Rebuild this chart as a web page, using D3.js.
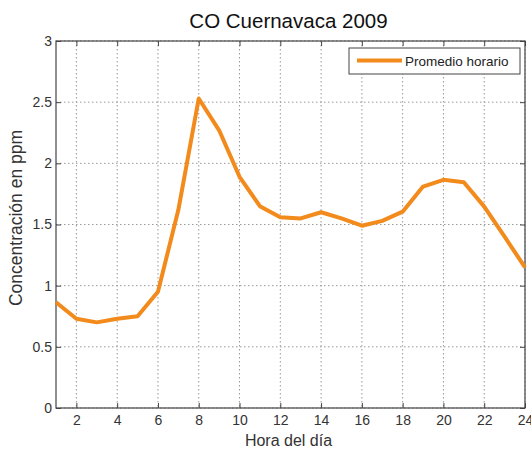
<!DOCTYPE html>
<html><head><meta charset="utf-8">
<script src="https://cdn.jsdelivr.net/npm/d3@7"></script>
<style>
body{margin:0;background:#fff;}
svg{display:block;font-family:"Liberation Sans",Arial,sans-serif;}
</style></head>
<body><svg id="c" width="531" height="450"></svg>
<script>
const hours = [1,2,3,4,5,6,7,8,9,10,11,12,13,14,15,16,17,18,19,20,21,22,23,24];
const values = [0.865,0.73,0.70,0.73,0.75,0.95,1.62,2.53,2.27,1.89,1.65,1.56,1.55,1.60,1.55,1.49,1.53,1.605,1.81,1.865,1.845,1.646,1.40,1.15];
const xTicks = [2,4,6,8,10,12,14,16,18,20,22,24];
const yTicks = [0,0.5,1,1.5,2,2.5,3];
const title = "CO Cuernavaca 2009";
const xLabel = "Hora del día";
const yLabel = "Concentración en ppm";
const seriesName = "Promedio horario";

const svg = d3.select("#c");
const L=56, R=525, T=41, B=408;
const x = d3.scaleLinear().domain([1,24]).range([L,R]);
const y = d3.scaleLinear().domain([0,3]).range([B,T]);
const axisCol="#444", textCol="#333", lineCol="#f28a1c";

// grid
const g = svg.append("g");
g.selectAll(".gx").data(xTicks).join("line")
  .attr("x1",d=>x(d)).attr("x2",d=>x(d)).attr("y1",T).attr("y2",B)
  .attr("stroke","#999").attr("stroke-width",1).attr("stroke-dasharray","1.5,2.5");
g.selectAll(".gy").data(yTicks).join("line")
  .attr("y1",d=>y(d)).attr("y2",d=>y(d)).attr("x1",L).attr("x2",R)
  .attr("stroke","#999").attr("stroke-width",1).attr("stroke-dasharray","1.5,2.5");

// axes with inner ticks
const xa = svg.append("g").attr("transform",`translate(0,${B})`)
  .call(d3.axisBottom(x).tickValues(xTicks).tickSize(-5).tickPadding(7).tickFormat(d3.format("d")));
const xt = svg.append("g").attr("transform",`translate(0,${T})`)
  .call(d3.axisTop(x).tickValues(xTicks).tickSize(-5).tickFormat(""));
const ya = svg.append("g").attr("transform",`translate(${L},0)`)
  .call(d3.axisLeft(y).tickValues(yTicks).tickSize(-5).tickPadding(4).tickFormat(d=>String(d)));
const yr = svg.append("g").attr("transform",`translate(${R},0)`)
  .call(d3.axisRight(y).tickValues(yTicks).tickSize(-5).tickFormat(""));
[xa,xt,ya,yr].forEach(a=>{
  a.select(".domain").remove();
  a.selectAll(".tick line").attr("stroke",axisCol);
  a.selectAll(".tick text").attr("fill",textCol).style("font-size","14px").style("font-family","'Liberation Sans',Arial,sans-serif");
});
svg.append("rect").attr("x",L).attr("y",T).attr("width",R-L).attr("height",B-T)
  .attr("fill","none").attr("stroke",axisCol).attr("stroke-width",1.2);

// line
const line = d3.line().x((d,i)=>x(hours[i])).y(d=>y(d));
svg.append("path").datum(values).attr("d",line).attr("fill","none")
  .attr("stroke",lineCol).attr("stroke-width",4).attr("stroke-linejoin","round");

// legend
svg.append("rect").attr("x",349).attr("y",48).attr("width",171).attr("height",26)
  .attr("fill","#fff").attr("stroke",axisCol).attr("stroke-width",1);
svg.append("line").attr("x1",357).attr("x2",402).attr("y1",60.5).attr("y2",60.5)
  .attr("stroke",lineCol).attr("stroke-width",4);
svg.append("text").attr("x",405).attr("y",66).attr("fill","#222")
  .style("font-size","13.5px").text(seriesName);

// labels
svg.append("text").attr("x",288.5).attr("y",28).attr("text-anchor","middle")
  .attr("fill","#111").style("font-size","20.5px").text(title);
svg.append("text").attr("x",288.5).attr("y",446).attr("text-anchor","middle")
  .attr("fill",textCol).style("font-size","16px").text(xLabel);
svg.append("text").attr("transform","translate(22,218) rotate(-90)").attr("text-anchor","middle")
  .attr("fill",textCol).style("font-size","17.5px").text(yLabel);
</script></body></html>
